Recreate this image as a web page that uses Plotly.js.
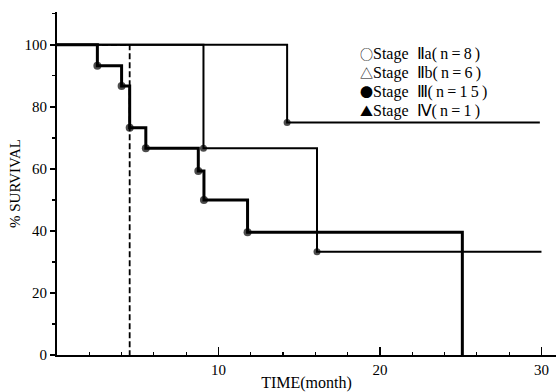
<!DOCTYPE html>
<html>
<head>
<meta charset="utf-8">
<script src="https://cdn.plot.ly/plotly-3.0.1.min.js"></script>
<style>html,body{margin:0;padding:0;background:#fff;}#chart{width:558px;height:392px;}</style>
</head>
<body>
<div id="chart"></div>
<script>
// Kaplan-Meier survival by stage
const stage2aTime = [0, 14.25, 29.9];
const stage2aSurv = [100, 75, 75];
const stage2bTime = [0, 9.07, 16.1, 30];
const stage2bSurv = [100, 66.7, 33.3, 33.3];
const stage3Time = [0, 2.5, 4.0, 4.5, 5.5, 8.75, 9.1, 11.8, 25.1];
const stage3Surv = [100, 93.3, 86.7, 73.3, 66.7, 59.3, 50, 39.6, 0];
const stage4Time = [0, 4.5, 4.5];
const stage4Surv = [100, 100, 0];
const legendSymbols = ["○", "△", "●", "▲"];
const legendStages = ["Ⅱa", "Ⅱb", "Ⅲ", "Ⅳ"];
const legendCounts = ["8", "6", "15", "1"];
const yTicks = [0, 20, 40, 60, 80, 100];
const xTicks = [10, 20, 30];

function dotSizes(n, s) {
  return Array.from({length: n}, (_, i) => (i === 0 || i === n - 1) ? 0 : s);
}

const traces = [
  {x: stage4Time, y: stage4Surv, mode: 'lines', line: {color: '#000', width: 1.8, dash: '6px,3px'}, name: 'Stage IV', showlegend: false},
  {x: stage2aTime, y: stage2aSurv, mode: 'lines+markers', line: {shape: 'hv', color: '#000', width: 2},
   marker: {color: '#000', size: dotSizes(stage2aTime.length, 7), line: {width: 0}}, name: 'Stage IIa', showlegend: false},
  {x: stage2bTime, y: stage2bSurv, mode: 'lines+markers', line: {shape: 'hv', color: '#000', width: 2},
   marker: {color: '#000', size: dotSizes(stage2bTime.length, 7), line: {width: 0}}, name: 'Stage IIb', showlegend: false},
  {x: stage3Time, y: stage3Surv, mode: 'lines+markers', line: {shape: 'hv', color: '#000', width: 3},
   marker: {color: '#000', size: dotSizes(stage3Time.length, 8), line: {width: 0}}, name: 'Stage III', showlegend: false}
];

const sp = '\u2009';
const annotations = legendSymbols.map((s, i) => ({
  xref: 'paper', yref: 'paper', x: (358 - 57) / (556 - 57), y: (355 - (53 + 19 * i)) / (355 - 12),
  xanchor: 'left', yanchor: 'middle',
  text: '<span style="font-family:\'Noto Sans CJK JP\';font-size:13px">' + s + '</span>Stage  ' + legendStages[i] +
        '(' + sp + 'n' + sp + '=' + sp + legendCounts[i].split('').join(sp) + sp + ')',
  showarrow: false,
  font: {family: 'Liberation Serif, serif', size: 16, color: '#000'}
}));

const layout = {
  width: 558, height: 392,
  margin: {l: 57, r: 2, t: 12, b: 37},
  paper_bgcolor: '#fff', plot_bgcolor: '#fff',
  showlegend: false,
  font: {family: 'Liberation Serif, serif', color: '#000'},
  xaxis: {
    range: [0, 30.9], showgrid: false, zeroline: false,
    showline: true, linecolor: '#000', linewidth: 2,
    ticks: 'inside', ticklen: 8, tickwidth: 1.5, tickcolor: '#000',
    tickvals: xTicks, ticktext: xTicks.map(String),
    tickfont: {size: 15},
    minor: {dtick: 2, ticks: 'inside', ticklen: 3, tickwidth: 1.2, tickcolor: '#000'},
    title: {text: 'TIME(month)', font: {size: 16}, standoff: 2}
  },
  yaxis: {
    range: [0, 110.6], showgrid: false, zeroline: false,
    showline: true, linecolor: '#000', linewidth: 2,
    ticks: 'outside', ticklen: 5, tickwidth: 1.5, tickcolor: '#000',
    tickvals: yTicks, ticktext: yTicks.map(String),
    tickfont: {size: 15},
    minor: {dtick: 10, ticks: 'outside', ticklen: 3, tickwidth: 1.2, tickcolor: '#000'},
    title: {text: '% SURVIVAL', font: {size: 15}, standoff: 0}
  },
  annotations: annotations
};

Plotly.newPlot('chart', traces, layout, {displayModeBar: false, staticPlot: true});
</script>
</body>
</html>
